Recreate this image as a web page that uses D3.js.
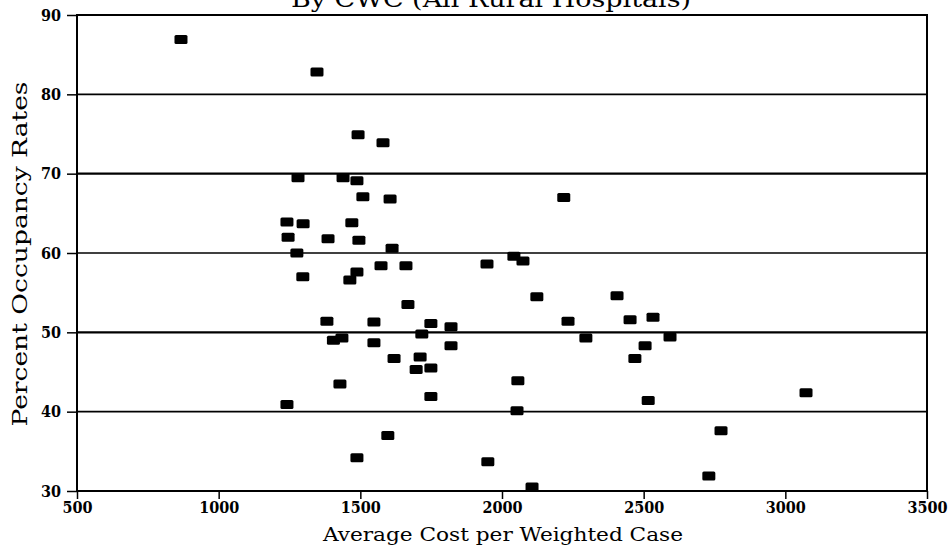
<!DOCTYPE html>
<html>
<head>
<meta charset="utf-8">
<script src="https://cdn.jsdelivr.net/npm/d3@7/dist/d3.min.js"></script>
<style>
  html, body { margin: 0; padding: 0; background: #fff; }
  svg { display: block; }
</style>
</head>
<body>
<svg id="chart" width="948" height="557"></svg>
<script>
// ---- data ----
const titleText = "By CWC (All Rural Hospitals)";
const xLabel = "Average Cost per Weighted Case";
const yLabel = "Percent Occupancy Rates";
const xTicks = [500, 1000, 1500, 2000, 2500, 3000, 3500];
const yTicks = [30, 40, 50, 60, 70, 80, 90];
const gridValues = [40, 50, 60, 70, 80];

const costValues = [
  867, 1347, 1492, 1580, 1280, 1439, 1488, 1509, 1605, 2218,
  1241, 1298, 1470, 1245, 1386, 1495, 1612, 1276, 1297, 1488,
  1573, 1661, 1463, 1947, 2042, 2074, 1668, 2123, 2406, 1382,
  1548, 1749, 1820, 2233, 2452, 2533, 1717, 1405, 1435, 1548,
  1820, 2296, 2505, 2593, 1619, 1711, 1697, 1749, 2469, 1428,
  2056, 1749, 1241, 2516, 3073, 2053, 1597, 2773, 1488, 1950,
  2730, 2106
];
const occupancyValues = [
  86.9, 82.8, 74.9, 73.9, 69.5, 69.5, 69.1, 67.1, 66.8, 67.0,
  63.9, 63.7, 63.8, 62.0, 61.8, 61.6, 60.6, 60.0, 57.0, 57.6,
  58.4, 58.4, 56.6, 58.6, 59.6, 59.0, 53.5, 54.5, 54.6, 51.4,
  51.3, 51.1, 50.7, 51.4, 51.6, 51.9, 49.8, 49.0, 49.3, 48.7,
  48.3, 49.3, 48.3, 49.4, 46.7, 46.9, 45.3, 45.5, 46.7, 43.5,
  43.9, 41.9, 40.9, 41.4, 42.4, 40.1, 37.0, 37.6, 34.2, 33.7,
  31.9, 30.5
];

// ---- layout ----
const svg = d3.select("#chart");
const mLeft = 77, mRight = 927, mTop = 15, mBottom = 491;
const x = d3.scaleLinear().domain([500, 3500]).range([mLeft, mRight]);
const y = d3.scaleLinear().domain([30, 90]).range([mBottom, mTop]);

const serif = "'DejaVu Serif', serif";
const cond = "'DejaVu Serif Condensed', 'DejaVu Serif', serif";

// title (clipped at top of page, as in the reference)
svg.append("text")
  .attr("x", 491).attr("y", 7)
  .attr("text-anchor", "middle")
  .attr("font-family", serif)
  .attr("font-size", 22)
  .attr("textLength", 400).attr("lengthAdjust", "spacingAndGlyphs")
  .text(titleText);

// gridlines
svg.append("g").selectAll("line").data(gridValues).join("line")
  .attr("x1", mLeft).attr("x2", mRight)
  .attr("y1", d => y(d)).attr("y2", d => y(d))
  .attr("stroke", "#000").attr("stroke-width", d => (d === 50 || d === 70) ? 2.2 : 1.6);

// frame
svg.append("rect")
  .attr("x", mLeft).attr("y", mTop)
  .attr("width", mRight - mLeft).attr("height", mBottom - mTop)
  .attr("fill", "none").attr("stroke", "#000").attr("stroke-width", 2);

// y axis
const yAxis = svg.append("g")
  .attr("transform", `translate(${mLeft},0)`)
  .call(d3.axisLeft(y).tickValues(yTicks).tickSize(10).tickPadding(6).tickFormat(d3.format("d")));
yAxis.select(".domain").remove();
yAxis.selectAll(".tick line").attr("stroke", "#000").attr("stroke-width", 1.5);
yAxis.selectAll(".tick text")
  .attr("font-family", cond).attr("font-weight", "bold")
  .attr("font-size", 16).attr("fill", "#000");

// x axis
const xAxis = svg.append("g")
  .attr("transform", `translate(0,${mBottom})`)
  .call(d3.axisBottom(x).tickValues(xTicks).tickSize(8).tickPadding(3).tickFormat(d3.format("d")));
xAxis.select(".domain").remove();
xAxis.selectAll(".tick line").attr("stroke", "#000").attr("stroke-width", 1.5);
xAxis.selectAll(".tick text")
  .attr("font-family", cond).attr("font-weight", "bold")
  .attr("font-size", 16).attr("fill", "#000");

// axis titles
svg.append("text")
  .attr("x", 503).attr("y", 541)
  .attr("text-anchor", "middle")
  .attr("font-family", cond)
  .attr("font-size", 19)
  .attr("textLength", 360).attr("lengthAdjust", "spacingAndGlyphs")
  .text(xLabel);

svg.append("text")
  .attr("transform", "translate(27,254) rotate(-90)")
  .attr("text-anchor", "middle")
  .attr("font-family", serif)
  .attr("font-size", 21)
  .attr("textLength", 345).attr("lengthAdjust", "spacingAndGlyphs")
  .text(yLabel);

// points
const pts = costValues.map((c, i) => ({ c, o: occupancyValues[i] }));
svg.append("g").selectAll("rect").data(pts).join("rect")
  .attr("x", d => x(d.c) - 6.5).attr("y", d => y(d.o) - 4.5)
  .attr("width", 13).attr("height", 9).attr("rx", 1.5)
  .attr("fill", "#000");
</script>
</body>
</html>
